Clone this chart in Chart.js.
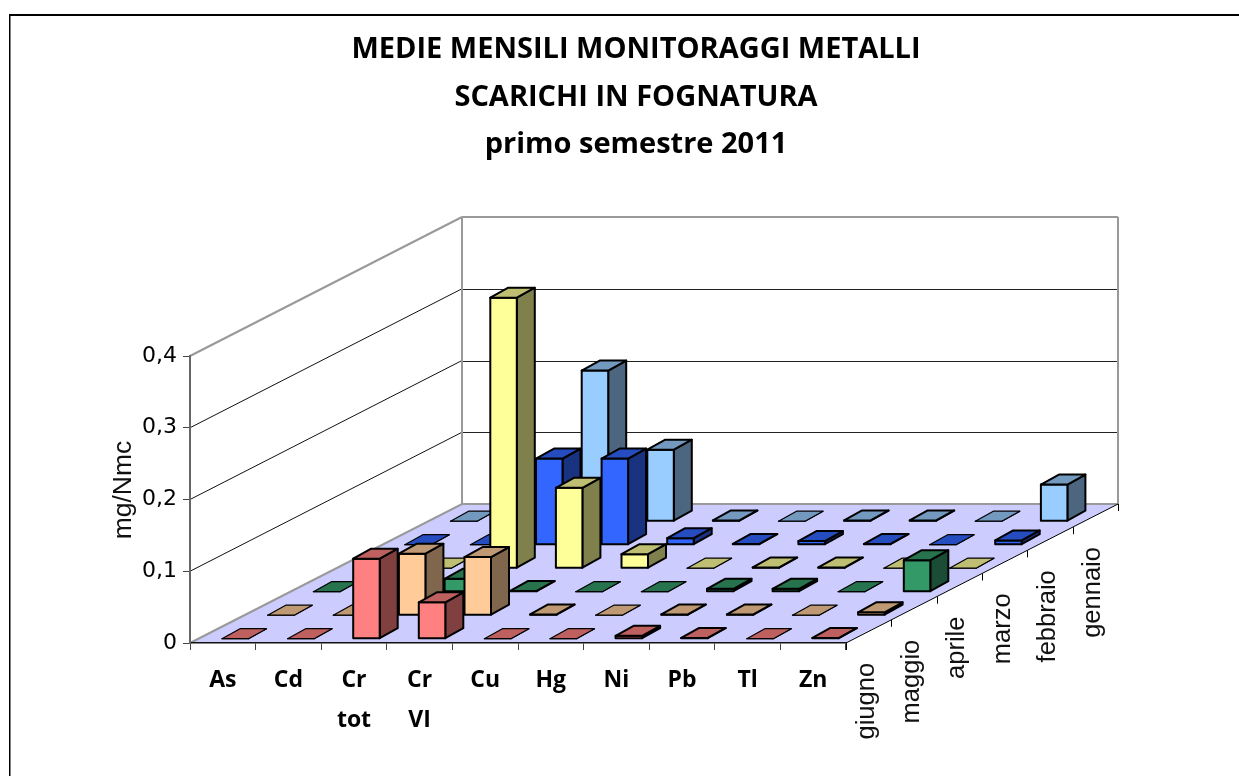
<!DOCTYPE html>
<html><head><meta charset="utf-8">
<style>html,body{margin:0;padding:0;background:#fff}canvas{display:block}</style>
<script src="https://cdn.jsdelivr.net/npm/chart.js@4"></script>
</head><body><canvas id="c" width="1239" height="776"></canvas>
<script>
const categories = [['As'],['Cd'],['Cr','tot'],['Cr','VI'],['Cu'],['Hg'],['Ni'],['Pb'],['Tl'],['Zn']];
const months = ['giugno','maggio','aprile','marzo','febbraio','gennaio'];
const giugno   = [0, 0, 0.1115, 0.0507, 0, 0, 0.004, 0.001, 0, 0.001];
const maggio   = [0, 0, 0.0857, 0.081, 0.001, 0, 0.001, 0.001, 0, 0.004];
const aprile   = [0, 0, 0.018, 0.001, 0, 0, 0.004, 0.004, 0, 0.044];
const marzo    = [0, 0, 0.377, 0.112, 0.0195, 0, 0.001, 0.001, 0, 0];
const febbraio = [0, 0, 0.12, 0.12, 0.009, 0.001, 0.005, 0.001, 0, 0.006];
const gennaio  = [0, 0, 0.21, 0.0997, 0.001, 0, 0.001, 0.001, 0, 0.051];
const seriesValues = [giugno, maggio, aprile, marzo, febbraio, gennaio];
const seriesColors = ['#FF8080','#FFCC99','#339966','#FFFF99','#3366FF','#99CCFF'];
const titleLines = ['MEDIE MENSILI MONITORAGGI METALLI','SCARICHI IN FOGNATURA','primo semestre 2011'];
const yTitle = 'mg/Nmc';

const FLOOR_DX = 272, FLOOR_DY = 139;      // floor depth in the oblique projection
const ROW_DX = 45.7, ROW_DY = 23.5;        // bar shift per series
const BAR_DX = 18, BAR_DY = 10;            // depth of one bar
const BAR_SHIFT = 12.45, BAR_LIFT = 4.3;

function shade(hex, f){
  const n = parseInt(hex.slice(1),16);
  return `rgb(${Math.round((n>>16&255)*f)},${Math.round((n>>8&255)*f)},${Math.round((n&255)*f)})`;
}
function poly(ctx, pts, fill, stroke, lw){
  ctx.beginPath();
  pts.forEach((p,i)=> i?ctx.lineTo(p[0],p[1]):ctx.moveTo(p[0],p[1]));
  ctx.closePath();
  if(fill){ctx.fillStyle=fill;ctx.fill();}
  if(stroke){ctx.strokeStyle=stroke;ctx.lineWidth=lw;ctx.stroke();}
}
const scene = {
  id:'scene',
  afterLayout(chart){
    // centre the title on the whole page, not on the plot
    chart.titleBlock.left=33; chart.titleBlock.right=1239;
  },
  beforeDraw(chart){
    const ctx=chart.ctx, a=chart.chartArea, y=chart.scales.y;
    ctx.save();
    ctx.fillStyle='#fff';ctx.fillRect(0,0,1239,776);
    ctx.fillStyle='#000';ctx.fillRect(9,14,1230,2);ctx.fillRect(9,14,1,762);
    ctx.fillStyle='#808080';ctx.fillRect(10,16,1,760);
    const g='#999';
    poly(ctx,[[a.left,a.bottom],[a.right,a.bottom],[a.right+FLOOR_DX,a.bottom-FLOOR_DY],[a.left+FLOOR_DX,a.bottom-FLOOR_DY]],'#CCCCFF');
    y.ticks.forEach(t=>{
      const py=y.getPixelForValue(t.value);
      if(t.value===0) return;
      const top=t.value===y.max;
      ctx.strokeStyle=top?g:'#111';ctx.lineWidth=top?2:1;
      ctx.beginPath();ctx.moveTo(a.left,py);ctx.lineTo(a.left+FLOOR_DX,py-FLOOR_DY);ctx.stroke();
      ctx.strokeStyle=top?g:'#222';
      const by=Math.round(py-FLOOR_DY)+(top?0:.5);
      ctx.beginPath();ctx.moveTo(a.left+FLOOR_DX,by);ctx.lineTo(a.right+FLOOR_DX,by);ctx.stroke();
    });
    ctx.strokeStyle=g;ctx.lineWidth=2;
    ctx.beginPath();
    ctx.moveTo(a.left,a.bottom);ctx.lineTo(a.left+FLOOR_DX,a.bottom-FLOOR_DY);
    ctx.lineTo(a.right+FLOOR_DX,a.bottom-FLOOR_DY);ctx.lineTo(a.right+FLOOR_DX,a.top-FLOOR_DY);
    ctx.moveTo(a.left+FLOOR_DX,a.top-FLOOR_DY);ctx.lineTo(a.left+FLOOR_DX,a.bottom-FLOOR_DY);
    ctx.stroke();
    ctx.restore();
  },
  beforeDatasetsDraw(chart){
    const ctx=chart.ctx;
    ctx.save();ctx.lineJoin='round';
    for(let s=chart.data.datasets.length-1;s>=0;s--){
      const ds=chart.data.datasets[s], meta=chart.getDatasetMeta(s);
      meta.data.forEach((el,i)=>{
        const w=el.width, x0=el.x-w/2+BAR_SHIFT+s*ROW_DX, x1=x0+w;
        const lift=BAR_LIFT+s*ROW_DY, yb=el.base-lift, yt=el.y-lift;
        const lw=ds.data[i]===0?1.2:2;
        poly(ctx,[[x1,yb],[x1+BAR_DX,yb-BAR_DY],[x1+BAR_DX,yt-BAR_DY],[x1,yt]],shade(ds.backgroundColor,.5),'#000',lw);
        poly(ctx,[[x0,yb],[x1,yb],[x1,yt],[x0,yt]],ds.backgroundColor,'#000',lw);
        poly(ctx,[[x0,yt],[x1,yt],[x1+BAR_DX,yt-BAR_DY],[x0+BAR_DX,yt-BAR_DY]],shade(ds.backgroundColor,.75),'#000',lw);
      });
    }
    ctx.restore();
    return false;
  },
  afterDraw(chart){
    const ctx=chart.ctx,a=chart.chartArea;
    ctx.save();
    ctx.strokeStyle='#000';ctx.lineWidth=1;
    ctx.beginPath();ctx.moveTo(a.right,a.bottom);ctx.lineTo(a.right+FLOOR_DX,a.bottom-FLOOR_DY);
    months.forEach((m,i)=>{
      const f=i/months.length,px=a.right+FLOOR_DX*f,py=a.bottom-FLOOR_DY*f;
      ctx.moveTo(Math.round(px)+.5,py);ctx.lineTo(Math.round(px)+.5,py+7);
    });
    ctx.moveTo(a.right+FLOOR_DX+.5,a.bottom-FLOOR_DY);ctx.lineTo(a.right+FLOOR_DX+.5,a.bottom-FLOOR_DY+7);
    ctx.stroke();
    ctx.fillStyle='#111';ctx.textBaseline='middle';ctx.textAlign='right';
    ctx.font='25.5px "Liberation Sans"';
    months.forEach((m,i)=>{
      const f=(i+.5)/months.length;
      ctx.save();
      ctx.translate(a.right+FLOOR_DX*f-2,a.bottom-FLOOR_DY*f+31.5);
      ctx.rotate(-Math.PI/2);ctx.fillText(m,0,0);ctx.restore();
    });
    ctx.save();
    ctx.translate(124,490);ctx.rotate(-Math.PI/2);ctx.textAlign='center';
    ctx.font='26.5px "Liberation Sans"';ctx.fillText(yTitle,0,0);ctx.restore();
    ctx.restore();
  }
};
new Chart(document.getElementById('c'),{
  type:'bar',
  data:{labels:categories,datasets:months.map((m,i)=>({label:m,data:seriesValues[i],backgroundColor:seriesColors[i],grouped:false,barThickness:26.5}))},
  plugins:[scene],
  options:{
    responsive:false,animation:false,
    layout:{padding:{left:0,right:393,bottom:0,top:0}},
    plugins:{legend:{display:false},tooltip:{enabled:false},
      title:{display:true,text:titleLines,color:'#000',font:{family:'"Open Sans"',size:29,weight:'bold',lineHeight:1.638},padding:{top:26,bottom:187.5}}},
    scales:{
      x:{type:'category',grid:{display:true,drawOnChartArea:false,tickLength:7,color:'#444',offset:true},border:{display:true,color:'#111',width:1.5},
        ticks:{color:'#000',maxRotation:0,autoSkip:false,padding:9.5,font:{family:'"Open Sans"',size:23,weight:'bold',lineHeight:1.78}},
        afterFit(s){s.height=133;}},
      y:{type:'linear',min:0,max:0.4,grid:{drawOnChartArea:false,tickLength:7,color:'#444'},border:{display:true,color:'#666',width:2},
        ticks:{stepSize:0.1,color:'#000',padding:6,font:{family:'"DejaVu Sans"',size:22},callback:v=>String(+v.toFixed(1)).replace('.',',')},
        afterFit(s){s.width=190;}}
    }
  }
});
</script></body></html>
